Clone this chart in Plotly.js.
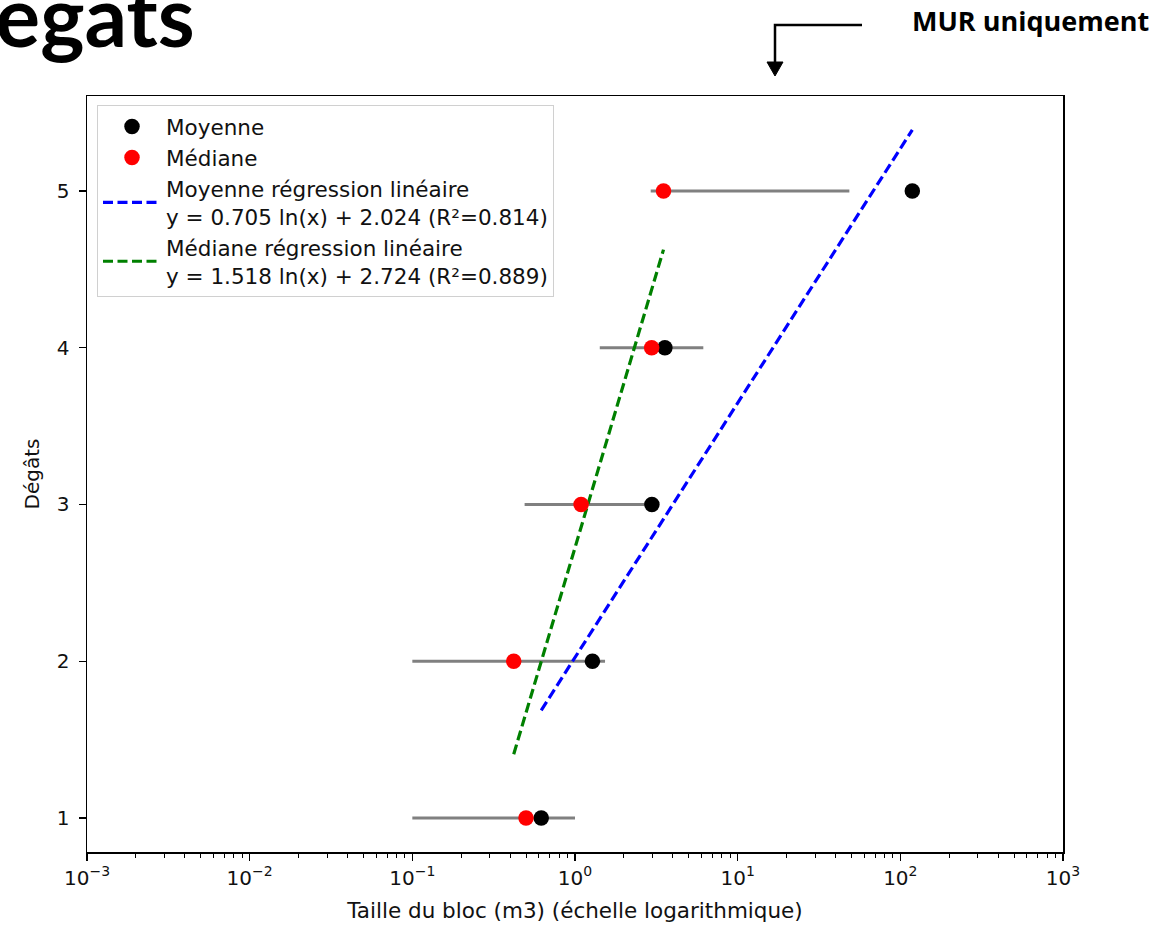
<!DOCTYPE html>
<html>
<head>
<meta charset="utf-8">
<script src="https://cdn.plot.ly/plotly-3.0.1.min.js"></script>
<style>
  html, body { margin: 0; padding: 0; background: #ffffff; }
  #chart { width: 1170px; height: 925px; }
</style>
</head>
<body>
<div id="chart"></div>
<script>
// Damage level (Dégâts) versus block size, MUR only
const levels = [1, 2, 3, 4, 5];
const meanSize = [0.62, 1.28, 2.97, 3.57, 118.5];
const medianSize = [0.50, 0.42, 1.09, 2.96, 3.50];
const rangeLow = [0.10, 0.10, 0.49, 1.42, 2.92];
const rangeHigh = [1.00, 1.53, 2.69, 6.15, 48.6];

// Logarithmic fits: y = a ln(x) + b
const meanSlope = 0.705, meanIntercept = 2.024, meanR2 = 0.814;
const medianSlope = 1.518, medianIntercept = 2.724, medianR2 = 0.889;

const xTickVals = [0.001, 0.01, 0.1, 1, 10, 100, 1000];
const xTickText = ['10<sup>−3</sup>', '10<sup>−2</sup>', '10<sup>−1</sup>', '10<sup>0</sup>',
                   '10<sup>1</sup>', '10<sup>2</sup>', '10<sup>3</sup>'];
const yTickVals = [1, 2, 3, 4, 5];

// Figure geometry (pixels)
const W = 1170, H = 925;
const M = { l: 87, r: 107, t: 96, b: 73 };
const plotW = W - M.l - M.r, plotH = H - M.t - M.b;
const px = x => (x - M.l) / plotW;
const py = y => (H - M.b - y) / plotH;

// Horizontal range segments, one per level
const segX = [], segY = [];
levels.forEach((lv, i) => {
  segX.push(rangeLow[i], rangeHigh[i], null);
  segY.push(lv, lv, null);
});

function fitLine(xs, a, b) {
  const lo = Math.min(...xs), hi = Math.max(...xs);
  return { x: [lo, hi], y: [a * Math.log(lo) + b, a * Math.log(hi) + b] };
}
const meanFit = fitLine(meanSize, meanSlope, meanIntercept);
const medianFit = fitLine(medianSize, medianSlope, medianIntercept);

const fmt = v => v.toFixed(3);
const dash = '10px,4.5px';

const traces = [
  {
    x: segX, y: segY, mode: 'lines', type: 'scatter',
    line: { color: '#808080', width: 3 },
    showlegend: false, hoverinfo: 'skip'
  },
  {
    x: meanFit.x, y: meanFit.y, mode: 'lines', type: 'scatter',
    name: 'Moyenne régression linéaire<br>y = ' + fmt(meanSlope) + ' ln(x) + ' + fmt(meanIntercept) +
          ' (R²=' + fmt(meanR2) + ')',
    line: { color: '#0000ff', width: 3.2, dash: dash },
    legendrank: 3
  },
  {
    x: medianFit.x, y: medianFit.y, mode: 'lines', type: 'scatter',
    name: 'Médiane régression linéaire<br>y = ' + fmt(medianSlope) + ' ln(x) + ' + fmt(medianIntercept) +
          ' (R²=' + fmt(medianR2) + ')',
    line: { color: '#008000', width: 3.2, dash: dash },
    legendrank: 4
  },
  {
    x: meanSize, y: levels, mode: 'markers', type: 'scatter', name: 'Moyenne',
    marker: { color: '#000000', size: 15.5 },
    legendrank: 1
  },
  {
    x: medianSize, y: levels, mode: 'markers', type: 'scatter', name: 'Médiane',
    marker: { color: '#ff0000', size: 15.5 },
    legendrank: 2
  }
];

const txt = '#111111';
const font = { family: 'DejaVu Sans', size: 20, color: txt };

const layout = {
  width: W, height: H,
  margin: M,
  paper_bgcolor: '#ffffff', plot_bgcolor: '#ffffff',
  font: font,
  showlegend: true,
  legend: {
    x: px(97), y: py(105), xanchor: 'left', yanchor: 'top',
    bgcolor: 'rgba(255,255,255,0.85)', bordercolor: '#d0d0d0', borderwidth: 1,
    font: { family: 'DejaVu Sans', size: 21.5, color: txt },
    itemwidth: 58, tracegroupgap: 0
  },
  xaxis: {
    type: 'log', range: [-3, 3],
    tickmode: 'array', tickvals: xTickVals, ticktext: xTickText,
    ticks: 'outside', ticklen: 7, tickwidth: 1.3, tickcolor: '#000',
    minor: { ticks: 'outside', ticklen: 4, tickwidth: 1, tickcolor: '#000', dtick: 'D1', showgrid: false },
    showline: true, linecolor: '#000', linewidth: 1.5, mirror: true,
    showgrid: false, zeroline: false, automargin: false,
    tickfont: { family: 'DejaVu Sans', size: 20, color: txt },
    title: { text: 'Taille du bloc (m3) (échelle logarithmique)', standoff: 14,
             font: { family: 'DejaVu Sans', size: 21.5, color: txt } }
  },
  yaxis: {
    range: [0.783, 5.606],
    tickmode: 'array', tickvals: yTickVals,
    ticks: 'outside', ticklen: 7, tickwidth: 1.3, tickcolor: '#000',
    ticklabelstandoff: 5,
    showline: true, linecolor: '#000', linewidth: 1.5, mirror: true,
    showgrid: false, zeroline: false, automargin: false,
    tickfont: { family: 'DejaVu Sans', size: 20, color: txt },
    title: { text: 'Dégâts', standoff: 12,
             font: { family: 'DejaVu Sans', size: 20, color: txt } }
  },
  shapes: [
    // elbow connector pointing down to the chart
    {
      type: 'path', xref: 'paper', yref: 'paper',
      path: 'M ' + px(862) + ',' + py(25) + ' L ' + px(775) + ',' + py(25) + ' L ' + px(775) + ',' + py(64),
      line: { color: '#000', width: 2.5 }
    },
    {
      type: 'path', xref: 'paper', yref: 'paper',
      path: 'M ' + px(767) + ',' + py(62) + ' L ' + px(783) + ',' + py(62) + ' L ' + px(775) + ',' + py(76) + ' Z',
      fillcolor: '#000', line: { color: '#000', width: 1 }
    }
  ],
  annotations: [
    {
      text: '<b>Dégâts</b>', xref: 'paper', yref: 'paper',
      x: px(197), y: py(14), xanchor: 'right', yanchor: 'middle',
      showarrow: false,
      font: { family: 'Lato', size: 84, color: '#000' }
    },
    {
      text: '<b>MUR uniquement</b>', xref: 'paper', yref: 'paper',
      x: px(1030), y: py(21), xanchor: 'center', yanchor: 'middle',
      showarrow: false,
      font: { family: 'Open Sans', size: 27, color: '#000' }
    }
  ]
};

Plotly.newPlot('chart', traces, layout, { staticPlot: true, displayModeBar: false });
</script>
</body>
</html>
